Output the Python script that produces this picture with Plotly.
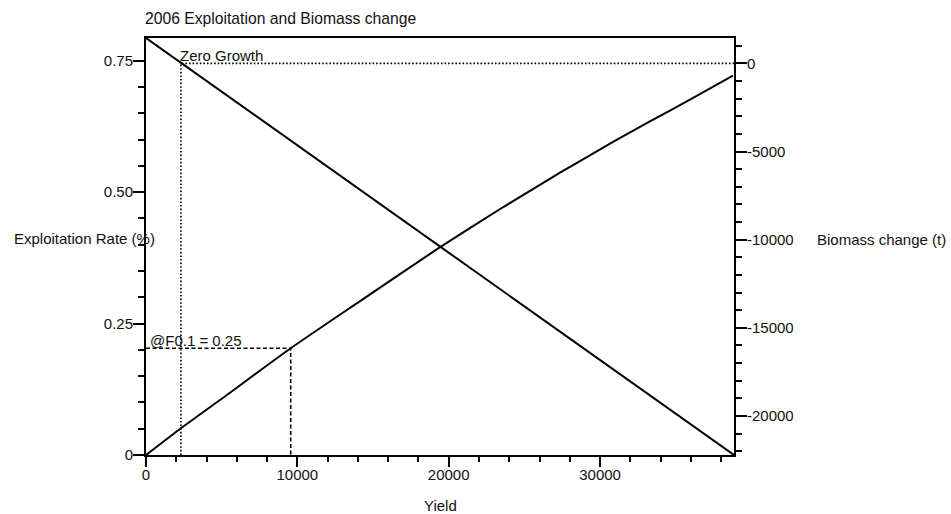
import plotly.graph_objects as go

# ---- data ----
yield_vals = [0, 2307, 5000, 9560, 14000, 19330, 23400, 27357, 31000, 33290, 36000, 38780]
expl_rate = [0, 0.051, 0.107, 0.203, 0.290, 0.3935, 0.468, 0.537, 0.598, 0.6345, 0.677, 0.7215]

bio_yield = [0, 38850]
bio_change = [1442, -22214]

f01_yield = 9560
f01_rate = 0.203
zero_growth_yield = 2307
zero_growth_bio = 0

x_range = [0, 38850]
y_range = [0, 0.7933]
y2_range = [-22214, 1442]

x_ticks = [0, 10000, 20000, 30000]
x_ticktext = ["0", "10000", "20000", "30000"]
y_ticks = [0, 0.25, 0.5, 0.75]
y_ticktext = ["0", "0.25", "0.50", "0.75"]
y2_ticks = [0, -5000, -10000, -15000, -20000]
y2_ticktext = ["0", "-5000", "-10000", "-15000", "-20000"]

FONT = "Liberation Sans, Arial, sans-serif"
FS = 15
TXT = "#111"

W, H = 951, 514

fig = go.Figure()

fig.add_trace(go.Scatter(x=yield_vals, y=expl_rate, mode="lines",
                         line=dict(color="black", width=2, shape="spline", smoothing=0.5),
                         yaxis="y", showlegend=False, hoverinfo="skip"))
fig.add_trace(go.Scatter(x=bio_yield, y=bio_change, mode="lines",
                         line=dict(color="black", width=2), yaxis="y2",
                         showlegend=False, hoverinfo="skip"))
fig.add_trace(go.Scatter(x=[x_range[0], f01_yield, f01_yield],
                         y=[f01_rate, f01_rate, y_range[0]], mode="lines",
                         line=dict(color="black", width=1.6, dash="4px,2.5px"),
                         yaxis="y", showlegend=False, hoverinfo="skip"))
fig.add_trace(go.Scatter(x=[zero_growth_yield, zero_growth_yield, x_range[1]],
                         y=[y2_range[0], zero_growth_bio, zero_growth_bio], mode="lines",
                         line=dict(color="black", width=1.6, dash="1.6px,2px"),
                         yaxis="y2", showlegend=False, hoverinfo="skip"))

axis_common = dict(showgrid=False, zeroline=False, showline=True, linecolor="black",
                   linewidth=2, ticks="outside", tickcolor="black", tickwidth=2,
                   tickfont=dict(family=FONT, size=FS, color=TXT))

fig.update_layout(
    width=W, height=H,
    margin=dict(l=146, r=217, t=38, b=59),
    paper_bgcolor="white", plot_bgcolor="white",
    font=dict(family=FONT, size=FS, color=TXT),
    title=dict(text="2006 Exploitation and Biomass change", x=145/W, xanchor="left",
               xref="container", y=1-19/H, yanchor="middle", yref="container",
               font=dict(family=FONT, size=15.7, color=TXT)),
    xaxis=dict(range=x_range, tickmode="array", tickvals=x_ticks, ticktext=x_ticktext,
               ticklen=10, mirror=True, ticklabelstandoff=-5,
               minor=dict(dtick=2000, tick0=0, ticklen=5, ticks="outside",
                          tickcolor="black", tickwidth=1.5),
               **axis_common),
    yaxis=dict(range=y_range, tickmode="array", tickvals=y_ticks, ticktext=y_ticktext,
               ticklen=11, ticklabelstandoff=-3,
               minor=dict(dtick=0.05, tick0=0, ticklen=6, ticks="outside",
                          tickcolor="black", tickwidth=1.5),
               **axis_common),
    yaxis2=dict(range=y2_range, overlaying="y", side="right", anchor="x",
                tickmode="array", tickvals=y2_ticks, ticktext=y2_ticktext, ticklen=11,
                ticklabelstandoff=-3,
                minor=dict(dtick=1000, tick0=0, ticklen=6, ticks="outside",
                           tickcolor="black", tickwidth=1.5),
                **axis_common),
    annotations=[
        dict(text="Yield", xref="paper", yref="paper", x=0.5, y=0, yshift=-50,
             xanchor="center", yanchor="middle", showarrow=False,
             font=dict(family=FONT, size=FS, color=TXT)),
        dict(text="Exploitation Rate (%)", xref="paper", yref="paper", x=0, xshift=-134,
             y=0.5, yshift=8, yanchor="middle", xanchor="left", showarrow=False,
             font=dict(family=FONT, size=FS, color=TXT)),
        dict(text="Biomass change (t)", xref="paper", yref="paper", x=1, xshift=81,
             y=0.5, yshift=7, yanchor="middle", xanchor="left", showarrow=False,
             font=dict(family=FONT, size=FS, color=TXT)),
        dict(text="Zero Growth", xref="x", yref="y2", x=zero_growth_yield, y=zero_growth_bio,
             xanchor="left", yanchor="bottom", showarrow=False, xshift=-3, yshift=-3,
             font=dict(family=FONT, size=FS, color=TXT)),
        dict(text="@F0.1 = 0.25", xref="x", yref="y", x=x_range[0], y=f01_rate,
             xanchor="left", yanchor="bottom", showarrow=False, xshift=2, yshift=-3,
             font=dict(family=FONT, size=FS, color=TXT)),
    ],
)

fig.write_html("out.html", config={"displayModeBar": False},
               post_script="document.body.style.margin='0px';document.body.style.overflow='hidden';")
